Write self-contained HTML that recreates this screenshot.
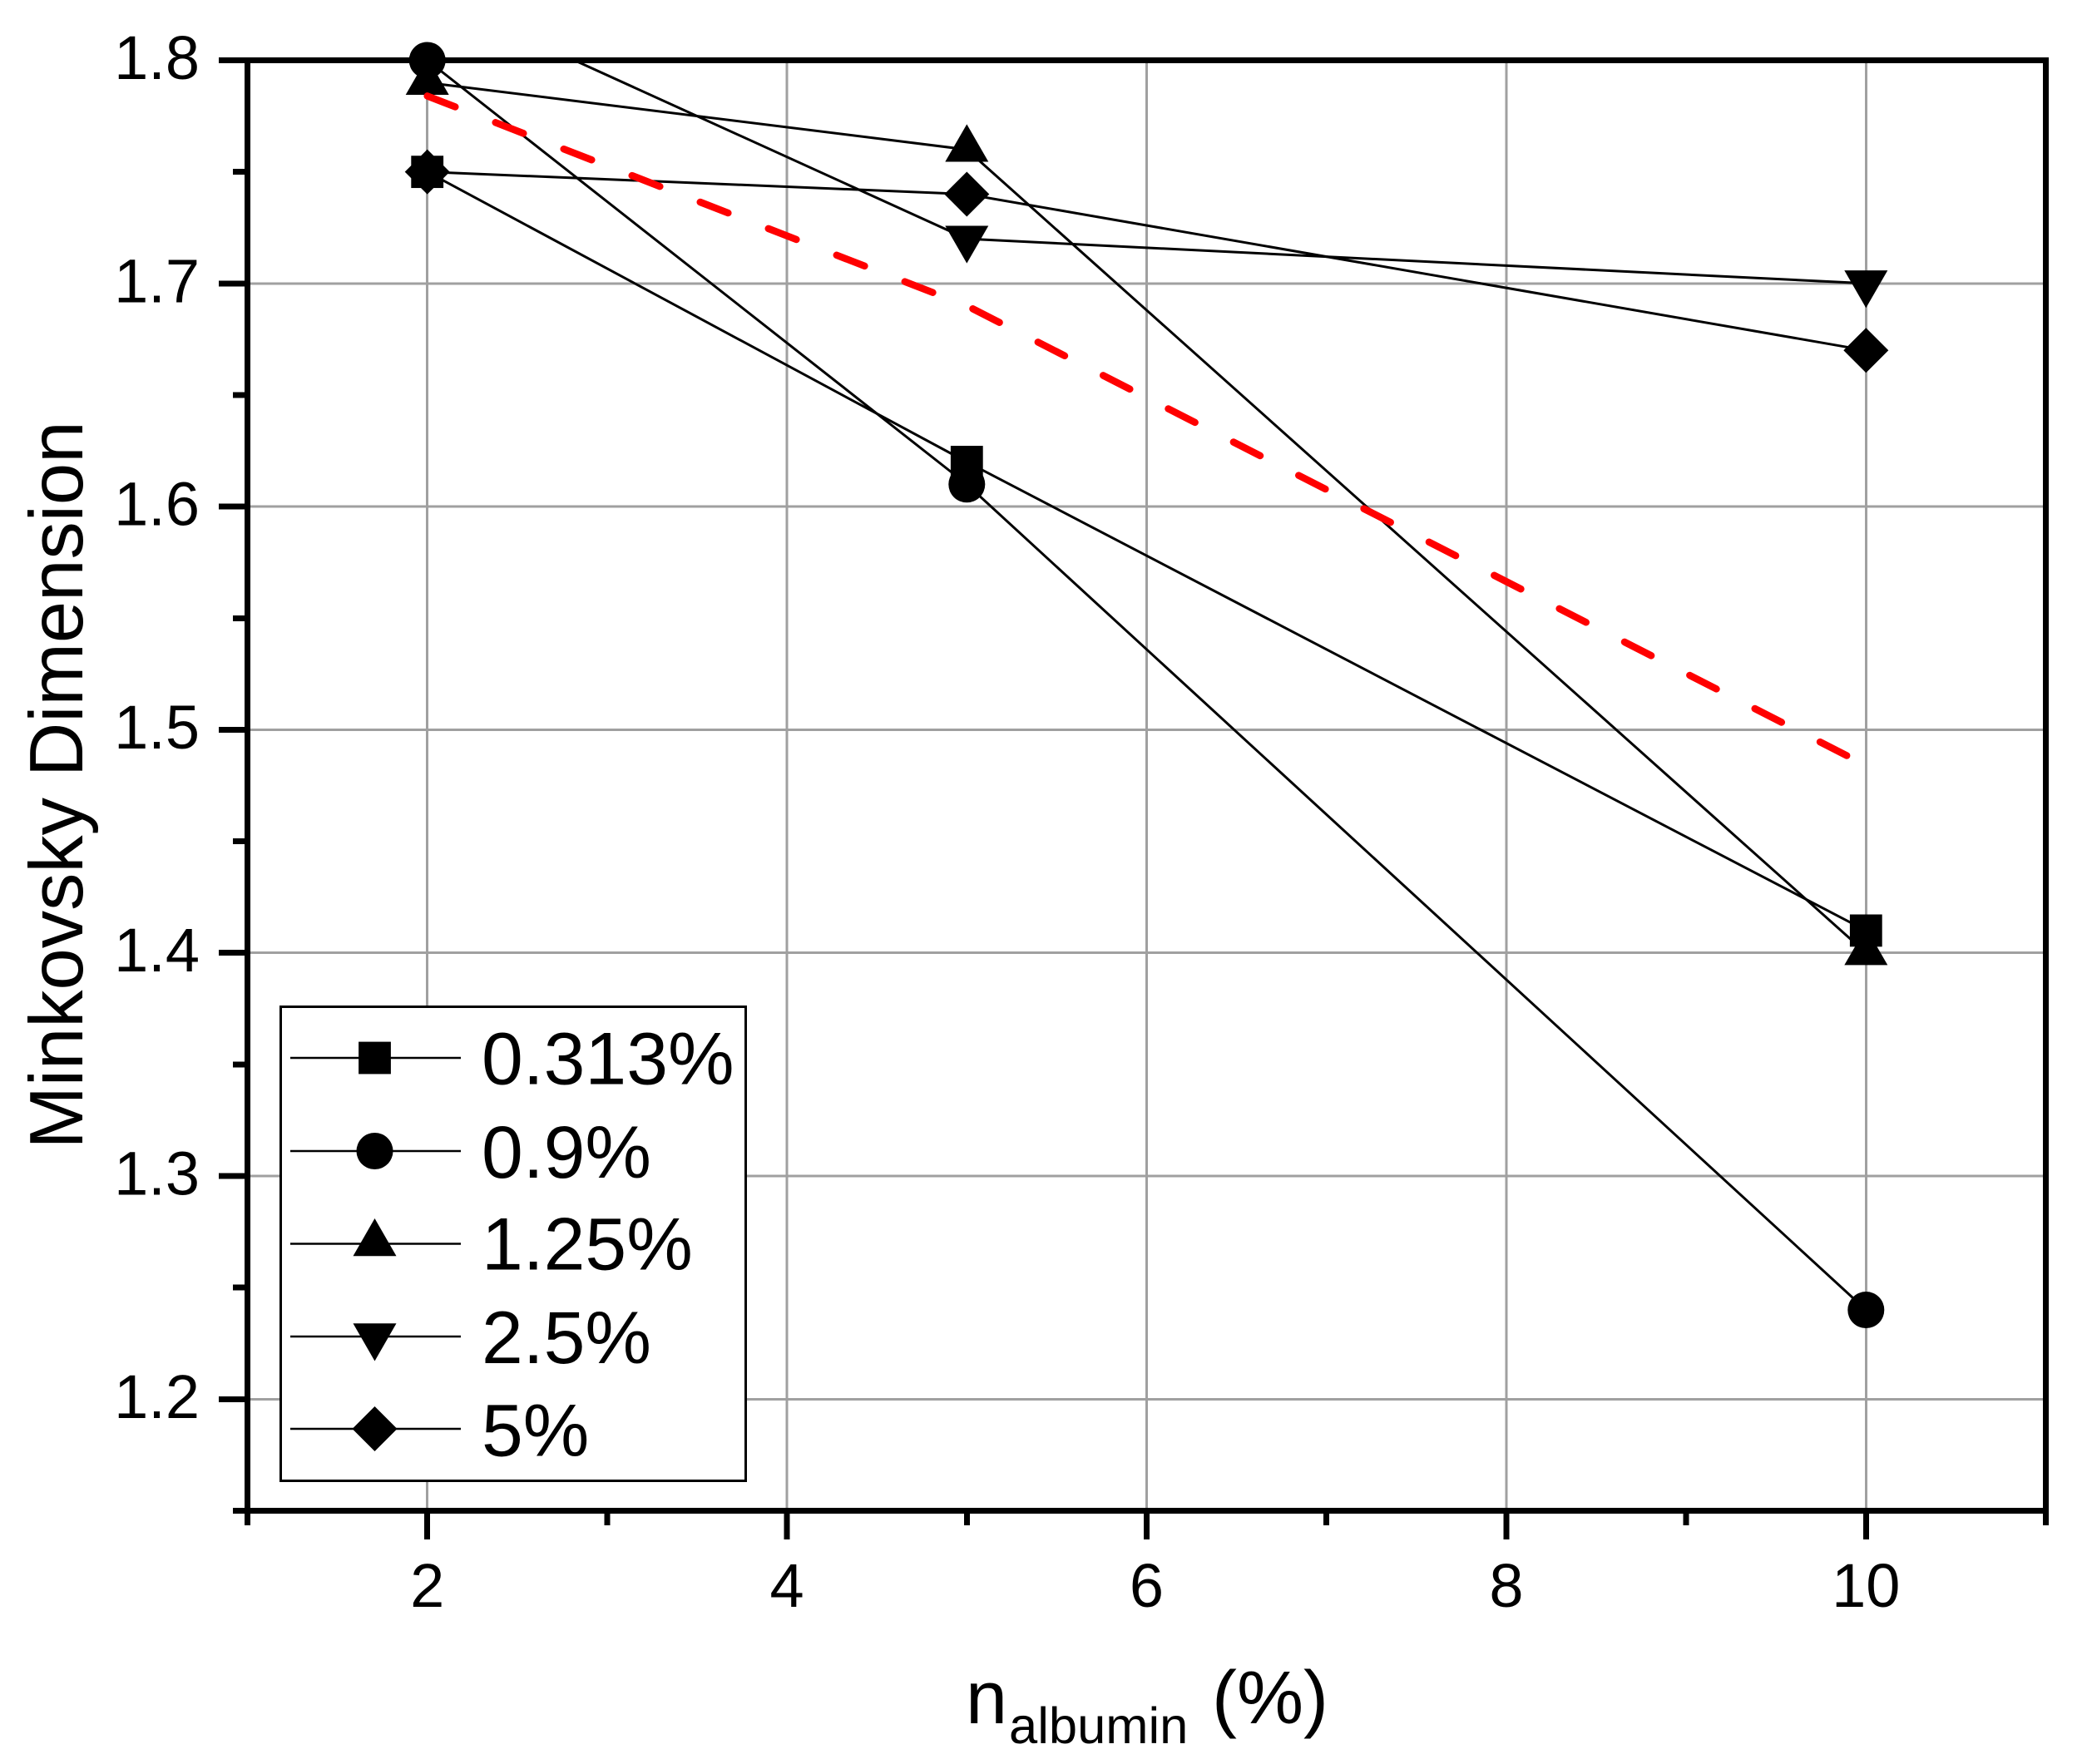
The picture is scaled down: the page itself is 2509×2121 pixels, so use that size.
<!DOCTYPE html>
<html lang="en">
<head>
<meta charset="utf-8">
<title>Minkovsky Dimension vs albumin</title>
<style>
  html, body { margin: 0; padding: 0; background: #fff; }
  svg { display: block; font-family: "Liberation Sans", Arial, sans-serif; }
  #grid line, #axes line { shape-rendering: crispEdges; }
</style>
</head>
<body>
<svg id="chart" xmlns="http://www.w3.org/2000/svg" width="2509" height="2121" viewBox="0 0 2509 2121">
  <rect x="0" y="0" width="2509" height="2121" fill="#ffffff"/>
  <defs>
    <clipPath id="plot-clip"><rect x="297" y="72" width="2163" height="1745"/></clipPath>
  </defs>
  <g id="grid"></g>
  <g id="axes"></g>
  <g id="series-lines" clip-path="url(#plot-clip)"></g>
  <g id="series-markers"></g>
  <g id="mean-layer"></g>
  <g id="legend"></g>
  <text transform="translate(99 944) rotate(-90)" text-anchor="middle" font-size="90.5" fill="#000">Minkovsky Dimension</text>
  <text y="2072" font-size="90" fill="#000"><tspan x="1161">n</tspan><tspan x="1213" y="2096" font-size="61.5">albumin</tspan><tspan x="1457" y="2072">(%)</tspan></text>
</svg>
<script>
// Chart data
const xCategories = [2, 5, 10];
const seriesNames = ['0.313%', '0.9%', '1.25%', '2.5%', '5%'];
const seriesShapes = ['square', 'circle', 'triangle', 'triangle-down', 'diamond'];
const values0313 = [1.75, 1.62, 1.41];
const values09 = [1.80, 1.61, 1.24];
const values125 = [1.79, 1.76, 1.40];
const values25 = [1.83, 1.72, 1.70];
const values5 = [1.75, 1.74, 1.67];
const meanValues = [1.784, 1.69, 1.484];
const xMajorTicks = [2, 4, 6, 8, 10];
const xMinorTicks = [1, 3, 5, 7, 9, 11];
const yMajorTicks = [1.2, 1.3, 1.4, 1.5, 1.6, 1.7, 1.8];
const yMinorTicks = [1.15, 1.25, 1.35, 1.45, 1.55, 1.65, 1.75];
const xDomain = [1, 11];
const yDomain = [1.15, 1.8];

const allSeries = [values0313, values09, values125, values25, values5];

// Axis functions
const plotLeft = 297.5, plotRight = 2459.5, plotTop = 72.5, plotBottom = 1816.5;
function xScale(v) {
  return plotLeft + (v - xDomain[0]) / (xDomain[1] - xDomain[0]) * (plotRight - plotLeft);
}
function yScale(v) {
  return plotBottom - (v - yDomain[0]) / (yDomain[1] - yDomain[0]) * (plotBottom - plotTop);
}

const NS = 'http://www.w3.org/2000/svg';
function make(parent, tag, attrs) {
  const el = document.createElementNS(NS, tag);
  for (const k in attrs) el.setAttribute(k, attrs[k]);
  parent.appendChild(el);
  return el;
}

function markerShape(parent, shape, cx, cy) {
  if (shape === 'square') {
    return make(parent, 'rect', { x: cx - 19.4, y: cy - 19.4, width: 38.8, height: 38.8, fill: '#000' });
  }
  if (shape === 'circle') {
    return make(parent, 'circle', { cx: cx, cy: cy, r: 22, fill: '#000' });
  }
  if (shape === 'triangle') {
    return make(parent, 'polygon', { points: [cx, cy - 30.5, cx + 26, cy + 14.7, cx - 26, cy + 14.7].join(' '), fill: '#000' });
  }
  if (shape === 'triangle-down') {
    return make(parent, 'polygon', { points: [cx, cy + 29.5, cx + 26, cy - 15.7, cx - 26, cy - 15.7].join(' '), fill: '#000' });
  }
  return make(parent, 'polygon', { points: [cx, cy - 27, cx + 27, cy, cx, cy + 27, cx - 27, cy].join(' '), fill: '#000' });
}

const gridG = document.getElementById('grid');
const axesG = document.getElementById('axes');
const linesG = document.getElementById('series-lines');
const markersG = document.getElementById('series-markers');
const meanG = document.getElementById('mean-layer');
const legendG = document.getElementById('legend');

// Grid
xMajorTicks.forEach(function (t) {
  const line = make(gridG, 'line', { x1: xScale(t), x2: xScale(t), y1: plotTop, y2: plotBottom, stroke: '#a0a0a0', 'stroke-width': 3 });
  
  
});
yMajorTicks.forEach(function (t) {
  if (t === yDomain[1]) return;
  const line = make(gridG, 'line', { x1: plotLeft, x2: plotRight, y1: yScale(t), y2: yScale(t), stroke: '#a0a0a0', 'stroke-width': 3 });
  
  
});

// Axis frame
const leftAxis = make(axesG, 'line', { x1: plotLeft, x2: plotLeft, y1: plotTop - 3.5, y2: plotBottom, stroke: '#000', 'stroke-width': 7 });


const rightAxis = make(axesG, 'line', { x1: plotRight, x2: plotRight, y1: plotTop - 3.5, y2: plotBottom, stroke: '#000', 'stroke-width': 7 });


const topAxis = make(axesG, 'line', { x1: plotLeft, x2: plotRight + 3.5, y1: plotTop, y2: plotTop, stroke: '#000', 'stroke-width': 7 });


const bottomAxis = make(axesG, 'line', { x1: plotLeft, x2: plotRight + 3.5, y1: plotBottom, y2: plotBottom, stroke: '#000', 'stroke-width': 7 });



// X ticks
xMajorTicks.forEach(function (t) {
  const tick = make(axesG, 'line', { x1: xScale(t), x2: xScale(t), y1: plotBottom, y2: 1851, stroke: '#000', 'stroke-width': 7 });
  
  
  const label = make(axesG, 'text', { x: xScale(t), y: 1932, 'text-anchor': 'middle', 'font-size': 74, fill: '#000' });
  label.textContent = String(t);
  
  
});
xMinorTicks.forEach(function (t) {
  const tick = make(axesG, 'line', { x1: xScale(t), x2: xScale(t), y1: plotBottom, y2: 1834, stroke: '#000', 'stroke-width': 7 });
  
  
});

// Y ticks
yMajorTicks.forEach(function (t) {
  const tick = make(axesG, 'line', { x1: 263, x2: plotLeft, y1: yScale(t), y2: yScale(t), stroke: '#000', 'stroke-width': 7 });
  
  
  const label = make(axesG, 'text', { x: 240, y: yScale(t) + 22.5, 'text-anchor': 'end', 'font-size': 74, fill: '#000' });
  label.textContent = t.toFixed(1);
  
  
});
yMinorTicks.forEach(function (t) {
  const tick = make(axesG, 'line', { x1: 280, x2: plotLeft, y1: yScale(t), y2: yScale(t), stroke: '#000', 'stroke-width': 7 });
  
  
});

// Series lines
allSeries.forEach(function (vals) {
  const pts = vals.map(function (v, i) { return xScale(xCategories[i]) + ',' + yScale(v); }).join(' ');
  const line = make(linesG, 'polyline', { points: pts, fill: 'none', stroke: '#000', 'stroke-width': 3 });
  
  
});

// Series markers (points outside the y range are clipped away)
allSeries.forEach(function (vals, s) {
  vals.forEach(function (v, i) {
    if (v > yDomain[1] || v < yDomain[0]) return;
    const m = markerShape(markersG, seriesShapes[s], xScale(xCategories[i]), yScale(v));
    
    
  });
});

// Mean dashed line
const meanPts = meanValues.map(function (v, i) { return xScale(xCategories[i]) + ',' + yScale(v); }).join(' ');
const meanLine = make(meanG, 'polyline', { points: meanPts, fill: 'none', stroke: '#ff0000', 'stroke-width': 8.5, 'stroke-linecap': 'round', 'stroke-linejoin': 'round', 'stroke-dasharray': '36 52' });



// Legend
const legendBox = make(legendG, 'rect', { x: 337.5, y: 1210.5, width: 559, height: 570, fill: '#fff', stroke: '#000', 'stroke-width': 3 });


const legendRowY = [1272, 1384, 1495.5, 1607, 1718];
const legendTextY = [1303.6, 1416, 1526.5, 1639, 1750.6];
seriesNames.forEach(function (name, s) {
  const sample = make(legendG, 'line', { x1: 349, x2: 554, y1: legendRowY[s], y2: legendRowY[s], stroke: '#000', 'stroke-width': 2.4 });
  
  
  const icon = markerShape(legendG, seriesShapes[s], 450.5, legendRowY[s]);
  
  
  const label = make(legendG, 'text', { x: 579, y: legendTextY[s], 'font-size': 89.5, fill: '#000' });
  label.textContent = name;
  
  
});
</script>
</body>
</html>
